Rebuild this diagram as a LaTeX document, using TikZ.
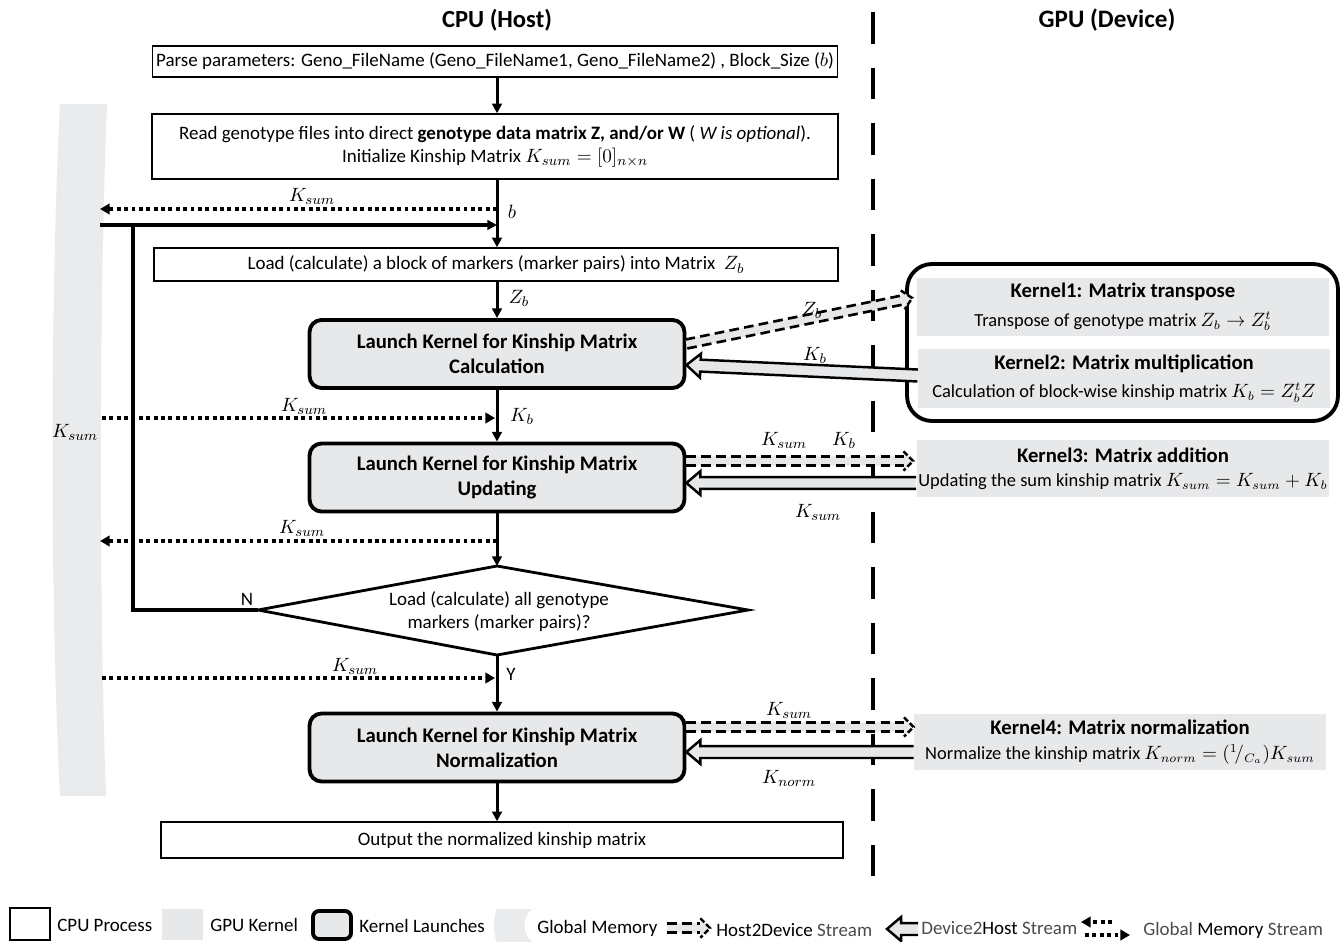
\documentclass[tikz,border=0pt]{standalone}
\usepackage{fontspec}
\setmainfont{Carlito}
\usetikzlibrary{calc,arrows.meta}
\definecolor{kgray}{RGB}{231,232,234}
\definecolor{mgray}{RGB}{234,235,237}
\definecolor{afill}{RGB}{230,231,233}
\definecolor{lighttext}{RGB}{75,75,75}

\newcommand\bageom[2]{%
 \path let \p1=(#1), \p2=(#2) in \pgfextra{%
   \pgfmathparse{atan2(\y2-\y1,\x2-\x1)}\xdef\baang{\pgfmathresult}%
   \pgfmathparse{veclen(\x2-\x1,\y2-\y1)}\xdef\balen{\pgfmathresult}};}
% Host2Device (dashed) block arrow from #1 to #2
\newcommand\blkH[2]{%
 \bageom{#1}{#2}%
 \begin{scope}[shift={(#1)}, rotate=\baang]
  \fill[afill] (0pt,2.6pt) -- ({\balen pt-5.5pt},2.6pt) -- ({\balen pt-5.5pt},5pt) -- (\balen pt,0pt) -- ({\balen pt-5.5pt},-5pt) -- ({\balen pt-5.5pt},-2.6pt) -- (0pt,-2.6pt) -- cycle;
  \draw[h2d] (0pt,2.6pt) -- ({\balen pt-5.5pt},2.6pt);
  \draw[h2d] (0pt,-2.6pt) -- ({\balen pt-5.5pt},-2.6pt);
  \draw[line width=1.4pt, dash pattern=on 3.2pt off 1.4pt] ({\balen pt-5.5pt},5.5pt) -- (\balen pt,0pt) -- ({\balen pt-5.5pt},-5.5pt);
 \end{scope}}
% Device2Host (solid outline) block arrow from #1 to #2
\newcommand\blkD[2]{%
 \bageom{#1}{#2}%
 \begin{scope}[shift={(#1)}, rotate=\baang]
  \filldraw[fill=afill, line width=1.4pt, line join=miter] (0pt,3.4pt) -- ({\balen pt-8pt},3.4pt) -- ({\balen pt-8pt},6.8pt) -- (\balen pt,0pt) -- ({\balen pt-8pt},-6.8pt) -- ({\balen pt-8pt},-3.4pt) -- (0pt,-3.4pt);
 \end{scope}}

\begin{document}
\begin{tikzpicture}[x=0.02cm,y=-0.02cm, font=\fontsize{10.8}{13.6}\selectfont,
  flow/.style={line width=1.7pt, -{Triangle[length=5.5pt,width=5.5pt]}},
  loopline/.style={line width=2.2pt},
  gstream/.style={line width=2.3pt, dash pattern=on 2.2pt off 2.0pt, -{Triangle[length=5.5pt,width=6pt]}},
  h2d/.style={line width=1.5pt, dash pattern=on 5.5pt off 3pt},
  cpubox/.style={draw, line width=0.8pt, align=center, inner sep=0pt},
  launch/.style={draw, fill=kgray, line width=2.2pt, rounded corners=0.24cm, align=center, inner sep=0pt,
     minimum width=7.5cm, minimum height=1.36cm, font=\bfseries\fontsize{11.8}{14.2}\selectfont},
  kernel/.style={fill=kgray, align=center, inner sep=0pt, font=\fontsize{10.5}{16.2}\selectfont},
  ktitle/.style={},
  divider/.style={line width=2.5pt, dash pattern=on 18pt off 13.6pt},
  lbl/.style={inner sep=1pt},
  lgt/.style={anchor=west, inner sep=0pt}]
\useasboundingbox (0,0) rectangle (1341,942);

% titles
\node[font=\bfseries\fontsize{14}{16}\selectfont] (tcpu) at (497,20) {CPU (Host)};
\node[font=\bfseries\fontsize{14.3}{16}\selectfont] (tgpu) at (1107,20) {GPU (Device)};

% divider
\coordinate (dv1) at (873,12);
\coordinate (dv2) at (873,886);
\draw[divider] (dv1) -- (dv2);

% global memory bar
\fill[mgray] (60,104) -- (107,104) .. controls (99,300) and (99,600) .. (106,796) -- (60,796) .. controls (50,600) and (50,300) .. (60,104) -- cycle;
\node[lbl] (memlbl) at (75,432) {$K_{sum}$};

% CPU boxes
\node[cpubox, minimum width=13.7cm, minimum height=0.62cm] (B1) at (495,61.5)
  {Parse parameters: Geno\_FileName (Geno\_FileName1, Geno\_FileName2) , Block\_Size ($b$)};
\node[cpubox, minimum width=13.72cm, minimum height=1.3cm] (B2) at (495,146.5)
  {Read genotype files into direct \textbf{genotype data matrix Z, and/or W} ( \textit{W is optional}).\\
   Initialize Kinship Matrix $K_{sum}=[0]_{n\times n}$};
\node[cpubox, minimum width=13.68cm, minimum height=0.66cm] (B3) at (496,264.5)
  {Load (calculate) a block of markers (marker pairs) into Matrix~ $Z_b$};
\node[launch] (L1) at (497,354) {Launch Kernel for Kinship Matrix\\Calculation};
\node[launch] (L2) at (497,477.5) {Launch Kernel for Kinship Matrix\\Updating};

% decision diamond
\coordinate (Dt) at (497,566);
\coordinate (Dr) at (748,610);
\coordinate (Db) at (497,655);
\coordinate (Dl) at (258,610);
\draw[line width=1.6pt, line join=miter] (Dt) -- (Dr) -- (Db) -- (Dl) -- cycle;
\node[align=center, font=\fontsize{10.8}{13}\selectfont] (Dtxt) at (499,612) {Load (calculate) all genotype\\markers (marker pairs)?};

\node[launch] (L3) at (497,747.5) {Launch Kernel for Kinship Matrix\\Normalization};
\node[cpubox, minimum width=13.64cm, minimum height=0.72cm] (Out) at (502,840) {Output the normalized kinship matrix};

% main flow
\coordinate (mx) at (497,0);
\draw[flow] (B1.south -| mx) -- (B2.north -| mx);
\draw[flow] (B2.south -| mx) -- (B3.north -| mx);
\draw[flow] (B3.south -| mx) -- (L1.north);
\draw[flow] (L1.south) -- (L2.north);
\draw[flow] (L2.south) -- (Dt);
\draw[flow] (Db) -- (L3.north);
\draw[flow] (L3.south) -- (L3.south |- Out.north);

% loop back
\coordinate (LC) at (133,225);
\coordinate (LS) at (100,225);
\coordinate (LE) at (497,225);
\draw[loopline, line join=miter] (Dl) -| (LC);
\draw[loopline, -{Triangle[length=5.5pt,width=5.5pt]}] (LS) -- (LE);
\node[lbl] (N) at (247,599) {N};
\node[lbl] (Y) at (511,674) {Y};

% global memory streams
\coordinate (g1a) at (497,209); \coordinate (g1b) at (100,209);
\draw[gstream] (g1a) -- (g1b);
\node[lbl] (g1l) at (312,196) {$K_{sum}$};
\node[lbl] (bl) at (512,212) {$b$};
\coordinate (g2a) at (102,418); \coordinate (g2b) at (495,418);
\draw[gstream] (g2a) -- (g2b);
\node[lbl] (g2l) at (304,406) {$K_{sum}$};
\node[lbl] (kbl) at (522,416) {$K_b$};
\node[lbl] (zbl) at (519,298) {$Z_b$};
\coordinate (g3a) at (497,541); \coordinate (g3b) at (100,541);
\draw[gstream] (g3a) -- (g3b);
\node[lbl] (g3l) at (302,528) {$K_{sum}$};
\coordinate (g4a) at (102,678); \coordinate (g4b) at (495,678);
\draw[gstream] (g4a) -- (g4b);
\node[lbl] (g4l) at (355,666) {$K_{sum}$};

% GPU kernels
\node[draw, line width=2.2pt, rounded corners=0.5cm, minimum width=8.62cm, minimum height=3.14cm] (KG) at (1122.5,342.5) {};
\node[kernel, minimum width=8.26cm, minimum height=1.16cm] (K1) at (1123,307)
  {{\bfseries\fontsize{11.8}{16.2}\selectfont Kernel1: Matrix transpose}\\Transpose of genotype matrix $Z_b\rightarrow Z_b^t$};
\node[kernel, minimum width=8.24cm, minimum height=1.18cm] (K2) at (1124,378.5)
  {{\bfseries\fontsize{11.8}{16.2}\selectfont Kernel2: Matrix multiplication}\\Calculation of block-wise kinship matrix $K_b=Z_b^tZ$};
\node[kernel, minimum width=8.26cm, minimum height=1.14cm, font=\fontsize{10.5}{13.8}\selectfont] (K3) at (1123,468.5)
  {{\bfseries\fontsize{11.8}{13.8}\selectfont Kernel3: Matrix addition}\\Updating the sum kinship matrix $K_{sum}=K_{sum}+K_b$};
\node[kernel, minimum width=8.24cm, minimum height=1.12cm, font=\fontsize{10.5}{14}\selectfont] (K4) at (1120,742)
  {{\bfseries\fontsize{11.8}{14}\selectfont Kernel4: Matrix normalization}\\Normalize the kinship matrix $K_{norm}=({}^{1}\!/_{C_a})K_{sum}$};

% transfers
\coordinate (a1s) at ($(L1.east)+(0,-10)$); \coordinate (a1e) at ($(K1.west)+(-4,-9)$);
\blkH{a1s}{a1e}
\node[lbl] (t1) at (812,310) {$Z_b$};
\coordinate (a2s) at ($(K2.west)+(0,-3)$); \coordinate (a2e) at ($(L1.east)+(0,11)$);
\blkD{a2s}{a2e}
\node[lbl] (t2) at (815,355) {$K_b$};
\coordinate (a3s) at ($(L2.east)+(0,-16.5)$); \coordinate (a3e) at ($(K3.west)+(-3,-7.5)$);
\blkH{a3s}{a3e}
\node[lbl] (t3) at (784,440) {$K_{sum}$};
\node[lbl] (t4) at (844,440) {$K_b$};
\coordinate (a4s) at ($(K3.west)+(0,14.5)$); \coordinate (a4e) at ($(L2.east)+(0,5.5)$);
\blkD{a4s}{a4e}
\node[lbl] (t5) at (818,512) {$K_{sum}$};
\coordinate (a5s) at ($(L3.east)+(0,-20.5)$); \coordinate (a5e) at ($(K4.west)+(0,-15)$);
\blkH{a5s}{a5e}
\node[lbl] (t6) at (789,710) {$K_{sum}$};
\coordinate (a6s) at ($(K4.west)+(0,10)$); \coordinate (a6e) at ($(L3.east)+(0,4.5)$);
\blkD{a6s}{a6e}
\node[lbl] (t7) at (789,778) {$K_{norm}$};

% legend
\node[draw, line width=0.9pt, minimum width=0.8cm, minimum height=0.64cm] (lg1) at (30,924) {};
\node[lgt] (lt1) at (57,925) {CPU Process};
\node[fill=kgray, minimum width=0.82cm, minimum height=0.62cm] (lg2) at (182.5,924.5) {};
\node[lgt] (lt2) at (210,925) {GPU Kernel};
\node[draw, fill=kgray, line width=2.2pt, rounded corners=0.12cm, minimum width=0.76cm, minimum height=0.56cm] (lg3) at (332,925) {};
\node[lgt] (lt3) at (359,926) {Kernel Launches};
\fill[mgray] (497,909) -- (532,909) .. controls (522,917) and (522,934) .. (532,942) -- (497,942) .. controls (493,934) and (493,917) .. (497,909) -- cycle;
\node[lgt] (lt4) at (537,928) {Global Memory};
\coordinate (lh1) at (667,928); \coordinate (lh2) at (710,928);
\blkH{lh1}{lh2}
\node[lgt] (lt5) at (716,930) {Host2Device {\color{lighttext}Stream}};
\coordinate (ld1) at (918,929); \coordinate (ld2) at (887,929);
\blkD{ld1}{ld2}
\node[lgt] (lt6) at (921,928) {{\color{lighttext}Device2}Host {\color{lighttext}Stream}};
\coordinate (lm1) at (1112,922); \coordinate (lm2) at (1081,922);
\draw[gstream] (lm1) -- (lm2);
\coordinate (lm3) at (1085,935); \coordinate (lm4) at (1130,935);
\draw[gstream] (lm3) -- (lm4);
\node[lgt] (lt7) at (1143,930) {{\color{lighttext}Global} Memory {\color{lighttext}Stream}};
\end{tikzpicture}
\end{document}
